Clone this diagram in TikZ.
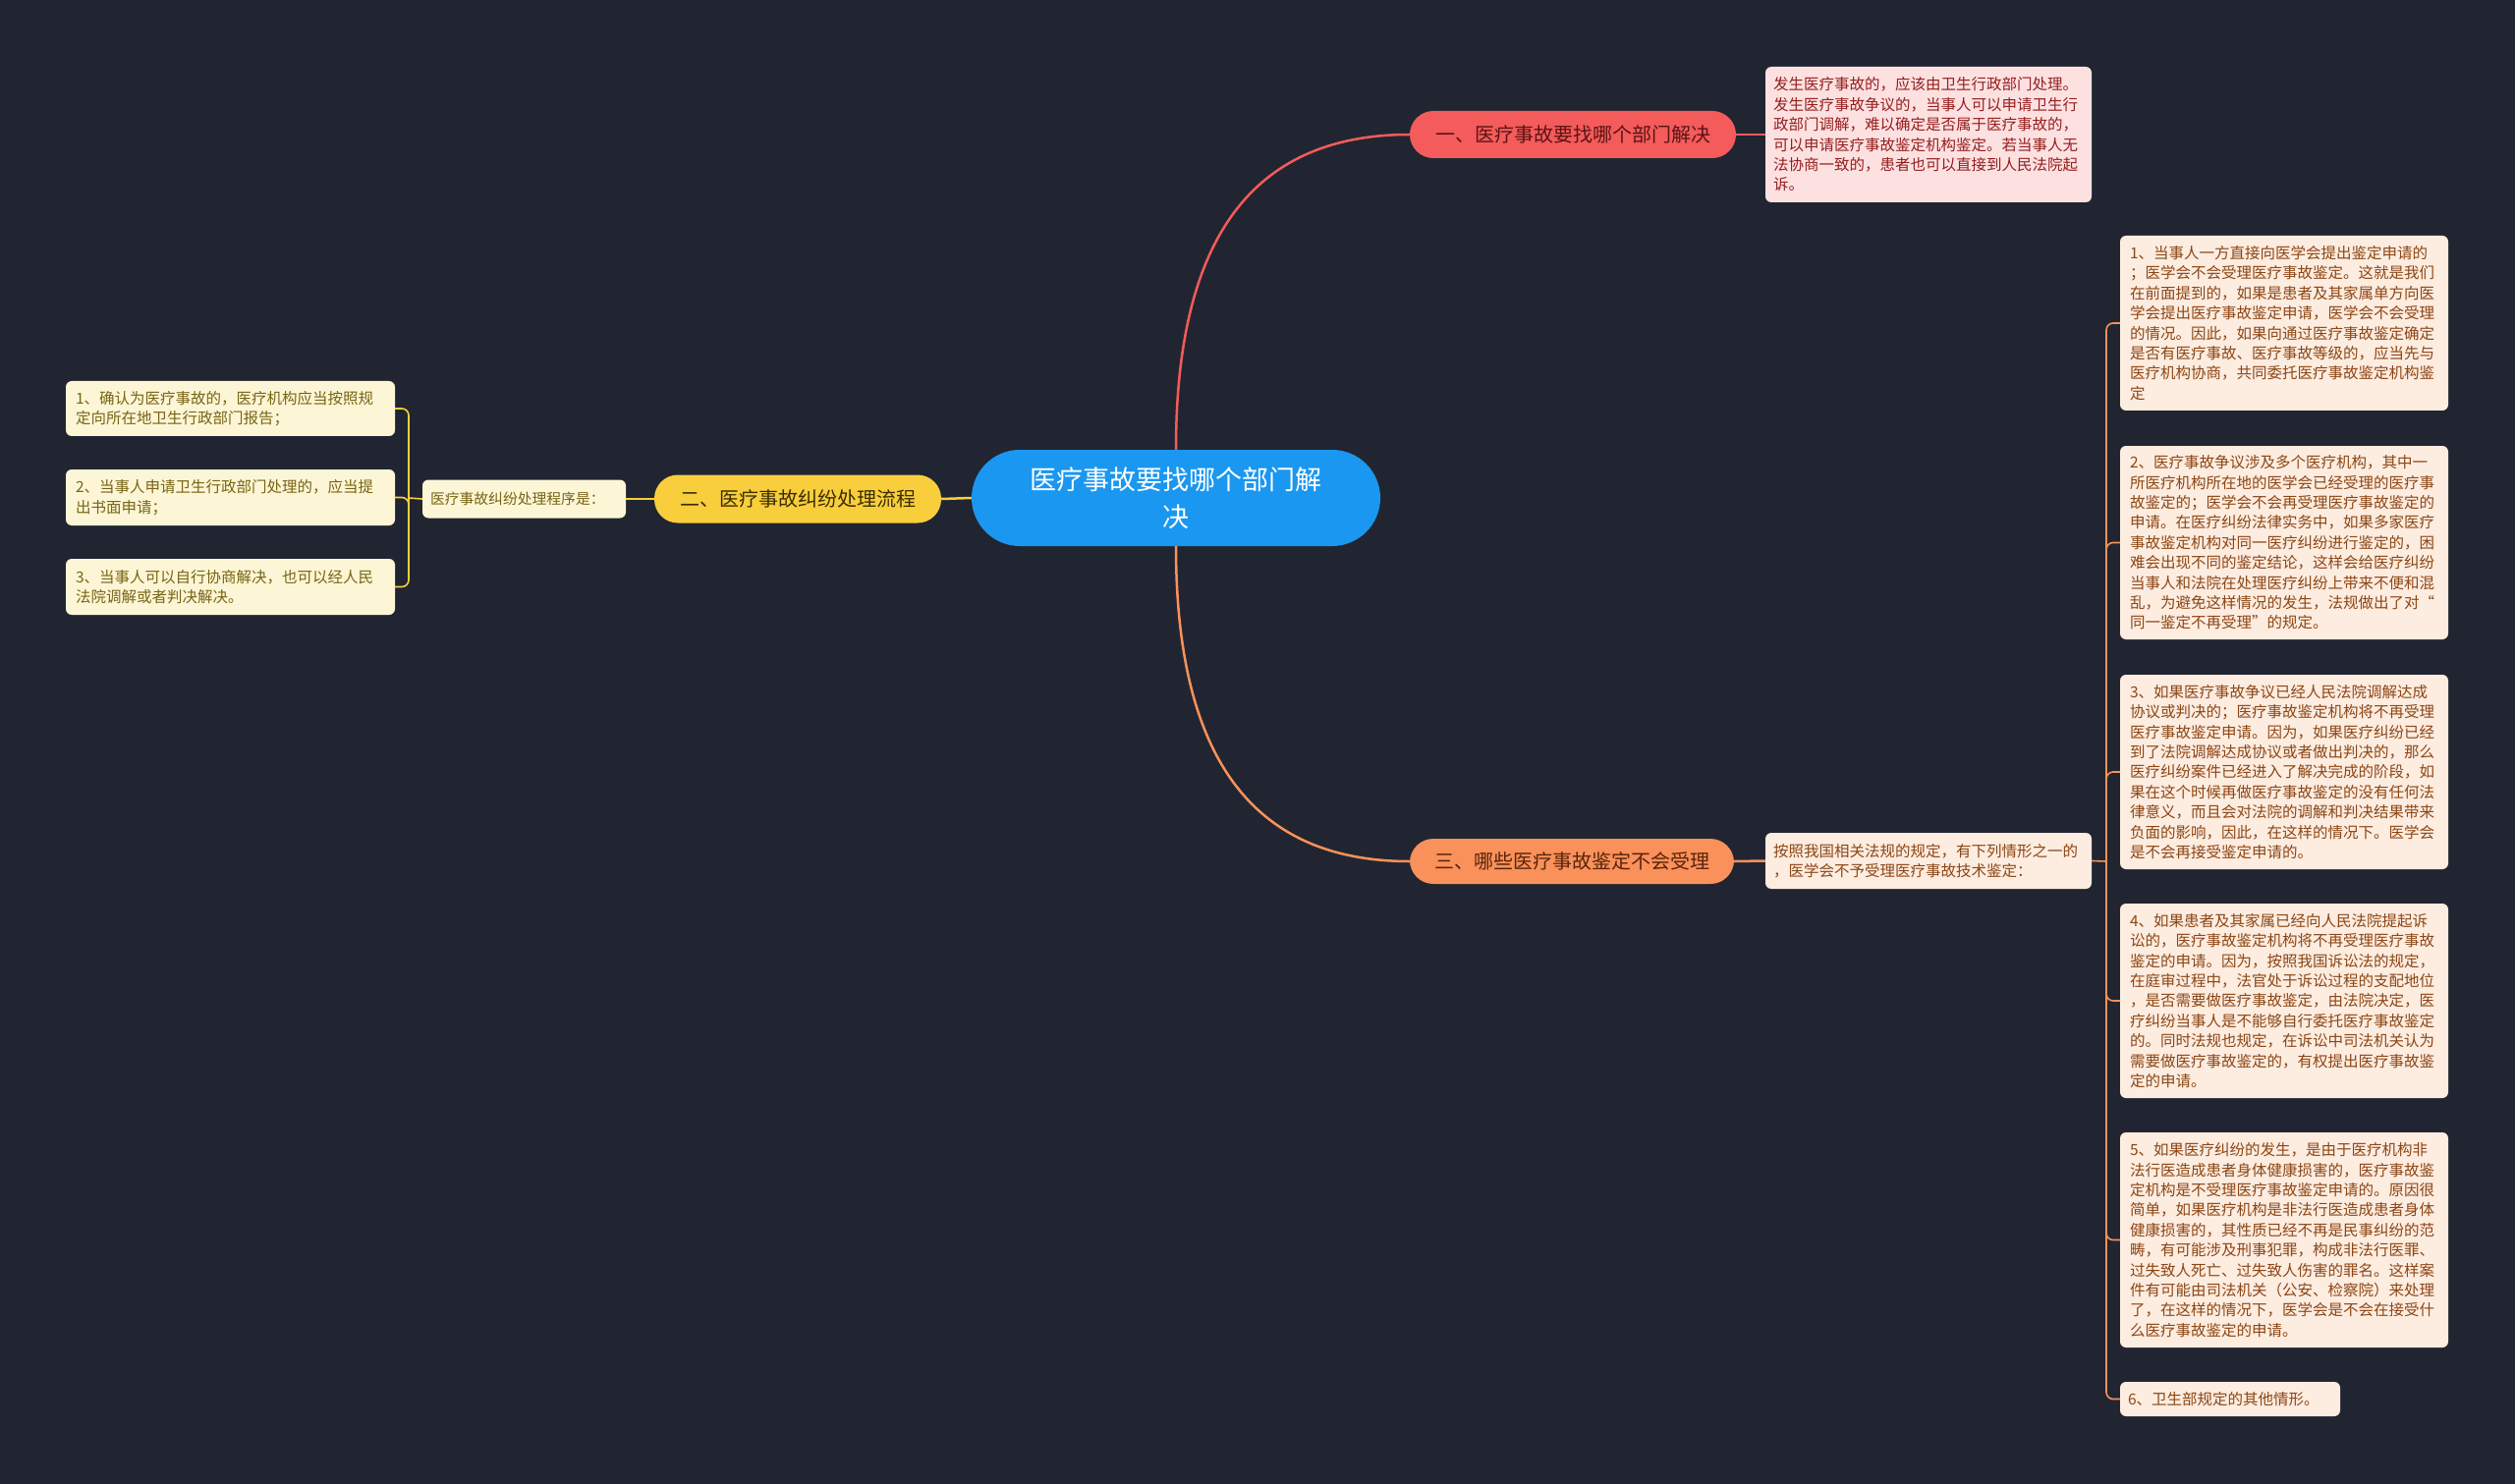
\documentclass[tikz,border=0pt]{standalone}
\usepackage{fontspec}
\newfontfamily\cjk{Noto Sans CJK SC}
\usepackage{tikz}
\definecolor{bgcol}{RGB}{33,37,49}
\definecolor{rootblue}{RGB}{26,151,240}
\definecolor{nodered}{RGB}{244,91,91}
\definecolor{nodeyellow}{RGB}{248,206,60}
\definecolor{nodeorange}{RGB}{250,145,90}
\definecolor{fillred}{RGB}{253,225,225}
\definecolor{fillyellow}{RGB}{253,246,214}
\definecolor{fillorange}{RGB}{253,236,224}
\definecolor{textred}{RGB}{150,30,30}
\definecolor{textyellow}{RGB}{120,100,20}
\definecolor{textorange}{RGB}{140,70,20}
\tikzstyle{rootbox}=[rounded corners=49pt, fill=rootblue, text=white, align=center, minimum width=416pt, minimum height=98pt, font=\cjk\fontsize{27}{38}\selectfont]
\tikzstyle{mainbox}=[rounded corners=24pt, minimum height=48pt, font=\cjk\fontsize{20}{24}\selectfont]
\tikzstyle{mainred}=[mainbox, fill=nodered, text={rgb,255:red,90;green,20;blue,20}]
\tikzstyle{mainyellow}=[mainbox, fill=nodeyellow, text={rgb,255:red,60;green,45;blue,0}]
\tikzstyle{mainorange}=[mainbox, fill=nodeorange, text={rgb,255:red,90;green,35;blue,10}]
\tikzstyle{leaf}=[rounded corners=6pt, align=left, inner xsep=10pt, font=\cjk\fontsize{15.5}{20.4}\selectfont]
\tikzstyle{leafred}=[leaf, fill=fillred, text=textred]
\tikzstyle{leafyellow}=[leaf, fill=fillyellow, text=textyellow]
\tikzstyle{leaforange}=[leaf, fill=fillorange, text=textorange]
\tikzstyle{linered}=[draw=nodered, line width=2.5pt]
\tikzstyle{lineyellow}=[draw=nodeyellow, line width=2.5pt]
\tikzstyle{lineorange}=[draw=nodeorange, line width=2.5pt]
\tikzstyle{bracketyellow}=[draw=nodeyellow, line width=1.6pt, rounded corners=7pt]
\tikzstyle{bracketorange}=[draw=nodeorange, line width=1.6pt, rounded corners=7pt]

\begin{document}
\begin{tikzpicture}[x=1pt, y=-1pt]
		   \fill[bgcol] (0,0) rectangle (2560,1511);
		   \useasboundingbox (0,0) rectangle (2560,1511);
		   \begin{scope}
			   \node (0) at (1197, 507)[rootbox] {医疗事故要找哪个部门解\\决};

			   \node (1) at (1601, 137)[mainred, minimum width=332pt] {一、医疗事故要找哪个部门解决};
			   \node (2) at (812, 508)[mainyellow, minimum width=292pt, minimum height=49pt] {二、医疗事故纠纷处理流程};
			   \node (3) at (1600, 877)[mainorange, minimum width=330pt, minimum height=46pt] {三、哪些医疗事故鉴定不会受理};

			   \node (1a) at (1963, 137)[leafred, inner xsep=8pt, text width=316pt, minimum height=138pt] {发生医疗事故的，应该由卫生行政部门处理。\\发生医疗事故争议的，当事人可以申请卫生行\\政部门调解，难以确定是否属于医疗事故的，\\可以申请医疗事故鉴定机构鉴定。若当事人无\\法协商一致的，患者也可以直接到人民法院起\\诉。};

			   \node (2a) at (533.5, 508)[leafyellow, inner xsep=8pt, text width=191pt, minimum height=39pt, font=\cjk\fontsize{14.8}{18}\selectfont] {医疗事故纠纷处理程序是：};
			   \node (2a1) at (234.5, 416)[leafyellow, text width=315pt, minimum height=56pt] {1、确认为医疗事故的，医疗机构应当按照规\\定向所在地卫生行政部门报告；};
			   \node (2a2) at (234.5, 506.5)[leafyellow, text width=315pt, minimum height=57pt] {2、当事人申请卫生行政部门处理的，应当提\\出书面申请；};
			   \node (2a3) at (234.5, 597.5)[leafyellow, text width=315pt, minimum height=57pt] {3、当事人可以自行协商解决，也可以经人民\\法院调解或者判决解决。};

			   \node (3a) at (1963, 876.5)[leaforange, inner xsep=8pt, text width=316pt, minimum height=57pt] {按照我国相关法规的规定，有下列情形之一的\\，医学会不予受理医疗事故技术鉴定：};
			   \node (3a1) at (2325, 329)[leaforange, text width=314pt, minimum height=178pt] {1、当事人一方直接向医学会提出鉴定申请的\\；医学会不会受理医疗事故鉴定。这就是我们\\在前面提到的，如果是患者及其家属单方向医\\学会提出医疗事故鉴定申请，医学会不会受理\\的情况。因此，如果向通过医疗事故鉴定确定\\是否有医疗事故、医疗事故等级的，应当先与\\医疗机构协商，共同委托医疗事故鉴定机构鉴\\定};
			   \node (3a2) at (2325, 552.5)[leaforange, text width=314pt, minimum height=197pt] {2、医疗事故争议涉及多个医疗机构，其中一\\所医疗机构所在地的医学会已经受理的医疗事\\故鉴定的；医学会不会再受理医疗事故鉴定的\\申请。在医疗纠纷法律实务中，如果多家医疗\\事故鉴定机构对同一医疗纠纷进行鉴定的，困\\难会出现不同的鉴定结论，这样会给医疗纠纷\\当事人和法院在处理医疗纠纷上带来不便和混\\乱，为避免这样情况的发生，法规做出了对“\\同一鉴定不再受理”的规定。};
			   \node (3a3) at (2325, 786)[leaforange, text width=314pt, minimum height=198pt] {3、如果医疗事故争议已经人民法院调解达成\\协议或判决的；医疗事故鉴定机构将不再受理\\医疗事故鉴定申请。因为，如果医疗纠纷已经\\到了法院调解达成协议或者做出判决的，那么\\医疗纠纷案件已经进入了解决完成的阶段，如\\果在这个时候再做医疗事故鉴定的没有任何法\\律意义，而且会对法院的调解和判决结果带来\\负面的影响，因此，在这样的情况下。医学会\\是不会再接受鉴定申请的。};
			   \node (3a4) at (2325, 1019)[leaforange, text width=314pt, minimum height=198pt] {4、如果患者及其家属已经向人民法院提起诉\\讼的，医疗事故鉴定机构将不再受理医疗事故\\鉴定的申请。因为，按照我国诉讼法的规定，\\在庭审过程中，法官处于诉讼过程的支配地位\\，是否需要做医疗事故鉴定，由法院决定，医\\疗纠纷当事人是不能够自行委托医疗事故鉴定\\的。同时法规也规定，在诉讼中司法机关认为\\需要做医疗事故鉴定的，有权提出医疗事故鉴\\定的申请。};
			   \node (3a5) at (2325, 1262.5)[leaforange, text width=314pt, minimum height=219pt] {5、如果医疗纠纷的发生，是由于医疗机构非\\法行医造成患者身体健康损害的，医疗事故鉴\\定机构是不受理医疗事故鉴定申请的。原因很\\简单，如果医疗机构是非法行医造成患者身体\\健康损害的，其性质已经不再是民事纠纷的范\\畴，有可能涉及刑事犯罪，构成非法行医罪、\\过失致人死亡、过失致人伤害的罪名。这样案\\件有可能由司法机关（公安、检察院）来处理\\了，在这样的情况下，医学会是不会在接受什\\么医疗事故鉴定的申请。};
			   \node (3a6) at (2270, 1424.5)[leaforange, inner xsep=8pt, text width=208pt, minimum height=35pt] {6、卫生部规定的其他情形。};

			   \coordinate (2b) at (416, 507);
			   \coordinate (3b) at (2144, 877);
		   \end{scope}
		   \begin{scope}
			   \path [linered] (0.north) .. controls +(0,-215) and +(-160,0) .. (1.west);
			   \path [lineorange] (0.south) .. controls +(0,215) and +(-160,0) .. (3.west);
			   \path [lineyellow] (0.west) -- (2.east);

			   \path [linered] (1.east) -- (1a.west);

			   \path [lineyellow] (2.west) -- (2a.east);
			   \path [bracketyellow] (2a.west) -- (2b);
			   \path [bracketyellow] (2b) |- (2a1.east);
			   \path [bracketyellow] (2b) |- (2a2.east);
			   \path [bracketyellow] (2b) |- (2a3.east);

			   \path [lineorange] (3.east) -- (3a.west);
			   \path [bracketorange] (3a.east) -- (3b);
			   \path [bracketorange] (3b) |- (3a1.west);
			   \path [bracketorange] (3b) |- (3a2.west);
			   \path [bracketorange] (3b) |- (3a3.west);
			   \path [bracketorange] (3b) |- (3a4.west);
			   \path [bracketorange] (3b) |- (3a5.west);
			   \path [bracketorange] (3b) |- (3a6.west);
		   \end{scope}
\end{tikzpicture}
\end{document}
